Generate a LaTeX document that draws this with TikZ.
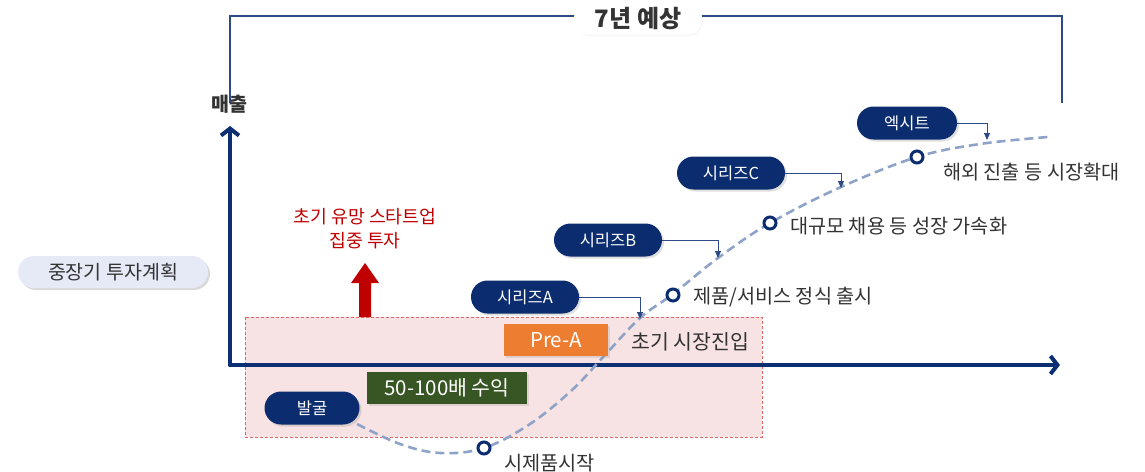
\documentclass[tikz,border=0pt]{standalone}
\usepackage{fontspec}
\setmainfont{Noto Sans CJK KR}
\usetikzlibrary{arrows.meta,shadows}
\definecolor{navy}{HTML}{0B2C6E}
\definecolor{axisblue}{HTML}{0C2F73}
\definecolor{bracketblue}{HTML}{2E4A87}
\definecolor{curveblue}{HTML}{8FA3C8}
\definecolor{pinkfill}{HTML}{F7E3E3}
\definecolor{pinkline}{HTML}{E06666}
\definecolor{darkred}{HTML}{C00000}
\definecolor{greenbox}{HTML}{375623}
\definecolor{orangebox}{HTML}{ED7D31}
\definecolor{lavender}{HTML}{E6EAF6}
\definecolor{textgray}{HTML}{333333}
\begin{document}
\begin{tikzpicture}[x=1pt,y=-1pt,
  pill/.style={fill=navy, text=white, rounded corners=16.5pt, minimum height=33pt,
    inner sep=0pt, font=\fontsize{16.5}{20}\selectfont,
    drop shadow={opacity=0.25, shadow xshift=2pt, shadow yshift=-2pt}},
  flatbox/.style={text=white, minimum height=32pt, inner sep=0pt,
    font=\fontsize{20.5}{24}\selectfont,
    drop shadow={opacity=0.2, shadow xshift=2pt, shadow yshift=-2pt}},
  desc/.style={anchor=west, inner sep=0pt, text=textgray, font=\fontsize{19.7}{23}\selectfont},
  milestone/.style={circle, draw=navy, line width=3pt, fill=white, minimum size=12pt, inner sep=0pt},
  axis/.style={draw=axisblue, line width=4pt, line cap=round,
    -{Straight Barb[length=7pt,width=18pt,line width=4pt]}},
  pointer/.style={draw=bracketblue, line width=0.9pt, -{Triangle[length=7pt,width=6pt]}},
  curve/.style={draw=curveblue, line width=2.6pt, dash pattern=on 9pt off 5pt}
]
\useasboundingbox (0,0) rectangle (1145,471);

% investment zone
\draw[fill=pinkfill, draw=pinkline, line width=0.8pt, dash pattern=on 3pt off 2pt] (245,317) rectangle (762,437);

% 7-year bracket
\coordinate (bl) at (230,103);
\coordinate (br) at (1062,103);
\draw[bracketblue, line width=2pt] (bl) -- (230,16) -- (1062,16) -- (br);
\node[fill=white, rounded corners=15pt, minimum width=128pt, minimum height=32pt,
  drop shadow={opacity=0.08, shadow xshift=1pt, shadow yshift=-1pt},
  font=\fontsize{24}{28}\selectfont\bfseries, text=textgray] (seven) at (638,19) {7년 예상};

% axes
\coordinate (origin) at (230,365);
\coordinate (ytip) at (230,126);
\coordinate (xtip) at (1060,365);
\draw[axis] (origin) -- (ytip);
\draw[axis] (origin) -- (xtip);
\node[font=\fontsize{19.5}{22}\selectfont\bfseries, text=textgray] (sales) at (229,104) {매출};

% left label
\node[fill=lavender, rounded corners=16pt, minimum width=190pt, minimum height=32pt,
  font=\fontsize{19.5}{22}\selectfont, text=textgray,
  drop shadow={opacity=0.3, shadow xshift=2pt, shadow yshift=-2pt}] (plan) at (113,272) {중장기 투자계획};

% red arrow and text
\fill[darkred] (359,317) -- (359,283) -- (351,283) -- (365,263) -- (379,283) -- (371,283) -- (371,317) -- cycle;
\node[align=center, text=darkred, font=\fontsize{18.3}{24}\selectfont] (focus) at (365,229) {초기 유망 스타트업\\집중 투자};

% growth curve
\draw[curve] plot[smooth, tension=0.6] coordinates {
  (357,424) (400,444) (440,453) (484,448) (530,424) (572,390) (605,355)
  (640,318) (673,294) (718,258) (770,223) (841,187) (917,157) (980,144) (1048,137)};

% milestones
\node[milestone] (m1) at (484,448) {};
\node[milestone] (m2) at (673,295) {};
\node[milestone] (m3) at (770,223) {};
\node[milestone] (m4) at (917,157) {};
\node[desc] (t1) at (504,463) {시제품시작};
\node[desc] (t2) at (693,297) {제품/서비스 정식 출시};
\node[desc] (t3) at (790,226) {대규모 채용 등 성장 가속화};
\node[desc] (t4) at (943,172) {해외 진출 등 시장확대};
\node[desc, font=\fontsize{20.5}{24}\selectfont] (t5) at (631,342) {초기 시장진입};

% boxes
\node[flatbox, fill=greenbox, minimum width=160pt] (ret) at (447,388) {50-100배 수익};
\node[flatbox, fill=orangebox, minimum width=104pt] (prea) at (556,340) {Pre-A};

% stage pills
\node[pill, minimum width=95pt] (dig) at (312,408) {발굴};
\node[pill, minimum width=108pt] (sa) at (525,297) {시리즈A};
\node[pill, minimum width=108pt] (sb) at (608,240) {시리즈B};
\node[pill, minimum width=108pt] (sc) at (731,173) {시리즈C};
\node[pill, minimum width=100pt] (ex) at (907,123) {엑시트};

% pointers
\coordinate (pa) at (640,319);
\coordinate (pb) at (718,258);
\coordinate (pc) at (841,188);
\coordinate (pe) at (987,140);
\draw[pointer] (sa.east) -| (pa);
\draw[pointer] (sb.east) -| (pb);
\draw[pointer] (sc.east) -| (pc);
\draw[pointer] (ex.east) -| (pe);
\end{tikzpicture}
\end{document}
